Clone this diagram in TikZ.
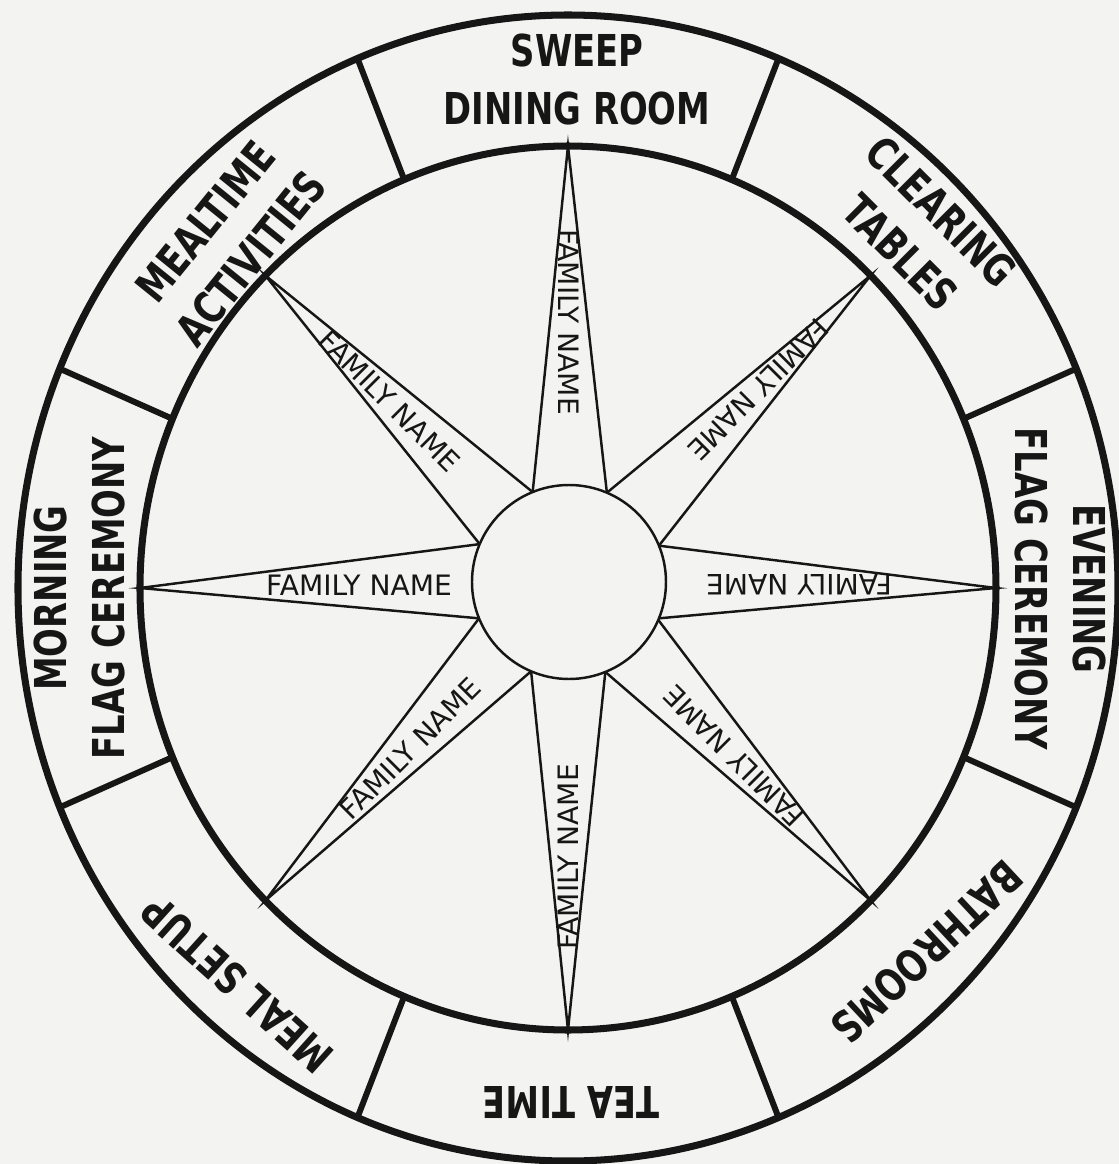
\documentclass[tikz,border=0pt]{standalone}
\usepackage{fontspec}
\newfontfamily\chorefont{DejaVu Sans}[FakeStretch=0.77]
\newfontfamily\namefont{DejaVu Sans}
\usetikzlibrary{calc}
\definecolor{paper}{RGB}{243,243,241}
\definecolor{ink}{RGB}{22,22,22}

\begin{document}
\begin{tikzpicture}[
    ring/.style={draw=ink, line width=4pt},
    divider/.style={draw=ink, line width=3.4pt},
    spike/.style={draw=ink, line width=1.4pt, line join=miter},
    chore/.style={align=center, text=ink, inner sep=0pt,
                  font=\chorefont\bfseries\fontsize{25}{33}\selectfont},
    fam/.style={text=ink, inner sep=0pt, font=\namefont\fontsize{16}{18}\selectfont}
  ]
  \fill[paper] (-11.36,-11.52) rectangle (11.02,11.76);
  \useasboundingbox (-11.36,-11.52) rectangle (11.02,11.76);

  % rim and hub
  \draw[ring] (0,0) ellipse [x radius=11.0, y radius=11.46];
  \draw[ring] (0,0) ellipse [x radius=8.56, y radius=8.84];
  \node[circle, draw=ink, line width=1.4pt, minimum size=3.88cm,
        inner sep=0pt, outer sep=0pt] (hub) at (0.02,0.12) {};

  % dividers of the rim
  \foreach \a [count=\i] in {22.5,67.5,...,337.5} {
    \coordinate (din\i) at ({8.56*cos(\a)},{8.84*sin(\a)});
    \coordinate (dout\i) at ({11.0*cos(\a)},{11.46*sin(\a)});
    \draw[divider] (din\i) -- (dout\i);
  }

  % star points
  \foreach \a/\r [count=\i, evaluate=\a as \lo using \a-22.5,
                  evaluate=\a as \hi using \a+22.5] in
      {0/4.6, 45/5.4, 90/5.2, 135/5.1, 180/4.2, 225/4.6, 270/5.5, 315/4.8} {
    \coordinate (tip\i) at ({8.56*cos(\a)},{8.84*sin(\a)});
    \draw[spike] (hub.\lo) -- (tip\i) -- (hub.\hi);
    \node[fam, rotate=\a-180] (fam\i) at ($(hub.center)!\r cm!(tip\i)$) {FAMILY NAME};
  }

  % chores
  \node[chore] (sweep) at (0.18,10.16) {SWEEP\\DINING ROOM};
  \node[chore, rotate=-45] (clearing) at (7.06,7.12) {CLEARING\\TABLES};
  \node[chore, rotate=-90] (evening) at (9.84,-0.02) {EVENING\\FLAG CEREMONY};
  \node[chore, rotate=-137] (bathrooms) at (7.18,-7.28) {BATHROOMS};
  \node[chore, rotate=180] (teatime) at (0.06,-10.3) {TEA TIME};
  \node[chore, rotate=138] (mealsetup) at (-6.62,-7.92) {MEAL SETUP};
  \node[chore, rotate=90] (morning) at (-9.76,-0.2) {MORNING\\FLAG CEREMONY};
  \node[chore, rotate=51] (mealtime) at (-6.8,6.96) {MEALTIME\\ACTIVITIES};
\end{tikzpicture}
\end{document}
